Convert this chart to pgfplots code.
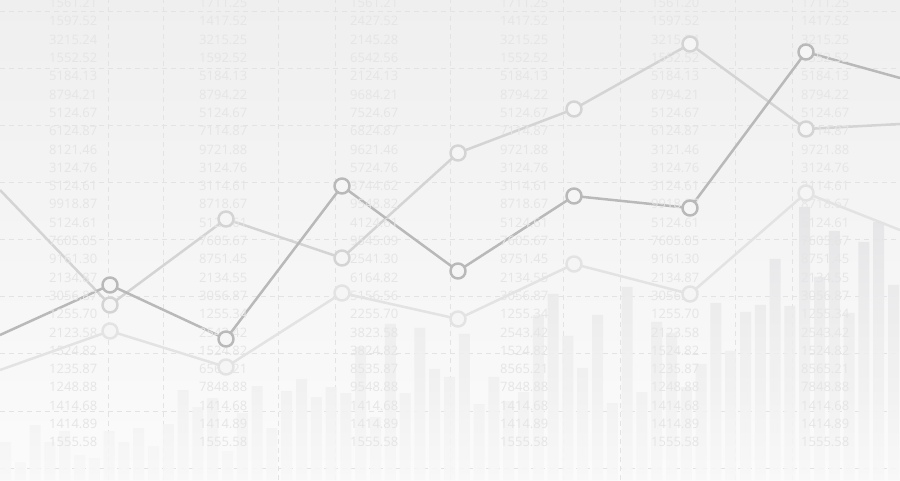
\documentclass[border=0pt]{standalone}
\usepackage{pgfplots}
\pgfplotsset{compat=1.18}
\usepackage{pgfplotstable}
\usepackage{fontspec}
\newfontfamily\numfont{Open Sans}
\definecolor{bgtop}{HTML}{EFEFEF}
\definecolor{bgbot}{HTML}{FBFBFB}
\definecolor{gridc}{HTML}{E3E3E3}
\definecolor{numc}{HTML}{E5E5E5}
\definecolor{bartop}{HTML}{E4E4E6}
\definecolor{barbot}{HTML}{F8F8F8}
\definecolor{ldark}{HTML}{B9B9B9}
\definecolor{lmid}{HTML}{D4D4D4}
\definecolor{llight}{HTML}{E3E3E3}
\definecolor{mfill}{HTML}{F5F5F5}

\pgfplotstableread{
x y t
49 477.0 1561.21
49 458.7 1597.52
49 440.4 3215.24
49 422.1 1552.52
49 403.8 5184.13
49 385.5 8794.21
49 367.2 5124.67
49 348.9 6124.87
49 330.6 8121.46
49 312.3 3124.76
49 294.0 5124.61
49 275.7 9918.87
49 257.4 5124.61
49 239.1 7605.05
49 220.8 9161.30
49 202.5 2134.87
49 184.2 3056.87
49 165.9 1255.70
49 147.6 2123.58
49 129.3 1524.82
49 111.0 1235.87
49 92.7 1248.88
49 74.4 1414.68
49 56.1 1414.89
49 37.8 1555.58
}\colA
\pgfplotstableread{
x y t
199 477.0 1711.25
199 458.7 1417.52
199 440.4 3215.25
199 422.1 1592.52
199 403.8 5184.13
199 385.5 8794.22
199 367.2 5124.67
199 348.9 7114.87
199 330.6 9721.88
199 312.3 3124.76
199 294.0 3114.61
199 275.7 8718.67
199 257.4 5124.61
199 239.1 7605.67
199 220.8 8751.45
199 202.5 2134.55
199 184.2 3056.87
199 165.9 1255.34
199 147.6 2543.42
199 129.3 1524.82
199 111.0 6565.21
199 92.7 7848.88
199 74.4 1414.68
199 56.1 1414.89
199 37.8 1555.58
}\colB
\pgfplotstableread{
x y t
350 477.0 1561.21
350 458.7 2427.52
350 440.4 2145.28
350 422.1 6542.56
350 403.8 2124.13
350 385.5 9684.21
350 367.2 7524.67
350 348.9 6824.87
350 330.6 9621.46
350 312.3 5724.76
350 294.0 3744.62
350 275.7 9548.82
350 257.4 4124.61
350 239.1 9545.09
350 220.8 2541.30
350 202.5 6164.82
350 184.2 5156.56
350 165.9 2255.70
350 147.6 3823.58
350 129.3 3824.82
350 111.0 8535.87
350 92.7 9548.88
350 74.4 1414.68
350 56.1 1414.89
350 37.8 1555.58
}\colC
\pgfplotstableread{
x y t
500 477.0 1711.25
500 458.7 1417.52
500 440.4 3215.25
500 422.1 1552.52
500 403.8 5184.13
500 385.5 8794.22
500 367.2 5124.67
500 348.9 7114.87
500 330.6 9721.88
500 312.3 3124.76
500 294.0 3114.61
500 275.7 8718.67
500 257.4 5124.61
500 239.1 7605.67
500 220.8 8751.45
500 202.5 2134.55
500 184.2 3056.87
500 165.9 1255.34
500 147.6 2543.42
500 129.3 1524.82
500 111.0 8565.21
500 92.7 7848.88
500 74.4 1414.68
500 56.1 1414.89
500 37.8 1555.58
}\colD
\pgfplotstableread{
x y t
651 477.0 1561.20
651 458.7 1597.52
651 440.4 3215.24
651 422.1 1552.52
651 403.8 5184.13
651 385.5 8794.21
651 367.2 5124.67
651 348.9 6124.87
651 330.6 3121.46
651 312.3 3124.76
651 294.0 3124.61
651 275.7 9918.87
651 257.4 5124.61
651 239.1 7605.05
651 220.8 9161.30
651 202.5 2134.87
651 184.2 3056.87
651 165.9 1255.70
651 147.6 2123.58
651 129.3 1524.82
651 111.0 1235.87
651 92.7 1248.88
651 74.4 1414.68
651 56.1 1414.89
651 37.8 1555.58
}\colE
\pgfplotstableread{
x y t
801 477.0 1711.25
801 458.7 1417.52
801 440.4 3215.25
801 422.1 1552.52
801 403.8 5184.13
801 385.5 8794.22
801 367.2 5124.67
801 348.9 7114.87
801 330.6 9721.88
801 312.3 3124.76
801 294.0 3114.61
801 275.7 8718.67
801 257.4 5124.61
801 239.1 7605.67
801 220.8 8751.45
801 202.5 2134.55
801 184.2 3056.87
801 165.9 1255.34
801 147.6 2543.42
801 129.3 1524.82
801 111.0 8565.21
801 92.7 7848.88
801 74.4 1414.68
801 56.1 1414.89
801 37.8 1555.58
}\colF

\pgfplotstableread{
x h
5.5 38
20.3 18
35.1 55
49.9 38
64.7 49
79.5 25
94.3 22
109.1 49
123.9 38
138.7 52
153.5 34
168.3 56
183.1 90
197.9 73
212.7 82
227.5 29
242.3 67
257.1 94
271.9 52
286.7 89
301.5 101
316.3 83
331.1 93
345.9 87
360.7 133
375.5 63
390.3 156
405.1 87
419.9 152
434.7 111
449.5 103
464.3 146
479.1 76
493.9 103
508.7 79
523.5 88
538.3 165
553.1 186
567.9 144
582.7 112
597.5 165
612.3 77
627.1 193
641.9 88
656.7 158
671.5 147
686.3 93
701.1 116
715.9 177
730.7 129
745.5 168
760.3 175
775.1 221
789.9 174
804.7 273
819.5 203
834.3 249
849.1 167
863.9 238
878.7 258
893.5 195
}\bars

\begin{document}
\begin{tikzpicture}
\begin{axis}[name=ax,
  width=900pt, height=480pt, scale only axis,
  xmin=0, xmax=900, ymin=0, ymax=480,
  axis line style={draw=none},
  xtick={108,163,278,335,450,563,620,735,792},
  ytick={12,69,126,183,240,297,354,411,468},
  xticklabels={}, yticklabels={},
  major tick length=0pt,
  grid=major,
  major grid style={gridc, line width=1pt, dash pattern=on 5pt off 4pt},
  axis background/.style={top color=bgtop, bottom color=bgbot},
  nodenum/.style={only marks, mark=none, nodes near coords,
    point meta=explicit symbolic,
    every node near coord/.append style={anchor=west, inner sep=0pt, text=numc,
      font=\numfont\fontsize{13}{13}\selectfont}},
  dotline/.style={line width=2.5pt, line join=round, mark=*, mark size=7.5pt,
    mark indices={2,3,4,5,6,7,8}},
]
\addplot[nodenum] table[x=x, y=y, meta=t] {\colA};
\addplot[nodenum] table[x=x, y=y, meta=t] {\colB};
\addplot[nodenum] table[x=x, y=y, meta=t] {\colC};
\addplot[nodenum] table[x=x, y=y, meta=t] {\colD};
\addplot[nodenum] table[x=x, y=y, meta=t] {\colE};
\addplot[nodenum] table[x=x, y=y, meta=t] {\colF};

\addplot[ybar, bar width=11pt, bar shift=0pt, draw=none,
  top color=bartop, bottom color=barbot, fill opacity=0.88] table[x=x, y=h] {\bars};

\addplot[dotline, llight, mark options={fill=mfill, draw=llight, line width=2.5pt}]
  coordinates {(0,110) (110,149) (226,113) (342,187) (458,161) (574,216) (690,186) (806,287) (900,250)};
\addplot[dotline, lmid, mark options={fill=mfill, draw=lmid, line width=2.5pt}]
  coordinates {(0,290) (110,175) (226,261) (342,222) (458,327) (574,371) (690,436) (806,351) (900,356)};
\addplot[dotline, ldark, mark options={fill=mfill, draw=ldark, line width=2.5pt}]
  coordinates {(0,145) (110,195) (226,141) (342,294) (458,209) (574,284) (690,272) (806,428) (900,402)};
\end{axis}
\pgfresetboundingbox
\useasboundingbox (ax.south west) rectangle (ax.north east);
\end{tikzpicture}
\end{document}
